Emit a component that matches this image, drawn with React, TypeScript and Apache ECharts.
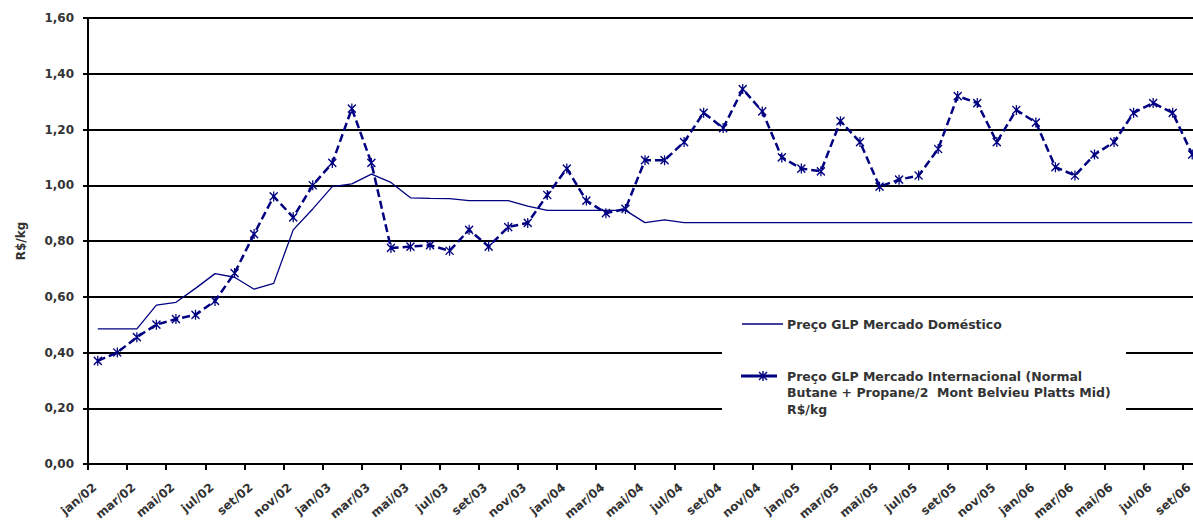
import React, { useEffect, useRef } from "react";
import * as echarts from "echarts";

// Monthly categories, jan/02 to set/06
const meses = [
  "jan/02", "fev/02", "mar/02", "abr/02", "mai/02", "jun/02", "jul/02", "ago/02", "set/02", "out/02", "nov/02", "dez/02",
  "jan/03", "fev/03", "mar/03", "abr/03", "mai/03", "jun/03", "jul/03", "ago/03", "set/03", "out/03", "nov/03", "dez/03",
  "jan/04", "fev/04", "mar/04", "abr/04", "mai/04", "jun/04", "jul/04", "ago/04", "set/04", "out/04", "nov/04", "dez/04",
  "jan/05", "fev/05", "mar/05", "abr/05", "mai/05", "jun/05", "jul/05", "ago/05", "set/05", "out/05", "nov/05", "dez/05",
  "jan/06", "fev/06", "mar/06", "abr/06", "mai/06", "jun/06", "jul/06", "ago/06", "set/06",
];

// Preço GLP Mercado Doméstico (R$/kg)
const precoDomestico = [
  0.485, 0.485, 0.485, 0.57, 0.58, 0.63, 0.683, 0.67, 0.627, 0.648, 0.84, 0.915,
  0.995, 1.005, 1.04, 1.01, 0.955, 0.953, 0.952, 0.945, 0.945, 0.945, 0.925, 0.91,
  0.91, 0.91, 0.91, 0.91, 0.866, 0.876, 0.866, 0.866, 0.866, 0.866, 0.866, 0.866,
  0.866, 0.866, 0.866, 0.866, 0.866, 0.866, 0.866, 0.866, 0.866, 0.866, 0.866, 0.866,
  0.866, 0.866, 0.866, 0.866, 0.866, 0.866, 0.866, 0.866, 0.866,
];

// Preço GLP Mercado Internacional (Normal Butane + Propane/2, Mont Belvieu) (R$/kg)
const precoInternacional = [
  0.37, 0.40, 0.455, 0.50, 0.52, 0.535, 0.585, 0.685, 0.825, 0.96, 0.885, 1.00,
  1.08, 1.275, 1.08, 0.775, 0.78, 0.785, 0.765, 0.84, 0.78, 0.85, 0.865, 0.965,
  1.06, 0.945, 0.90, 0.915, 1.09, 1.09, 1.155, 1.26, 1.205, 1.345, 1.265, 1.10,
  1.06, 1.05, 1.23, 1.155, 0.995, 1.02, 1.035, 1.13, 1.32, 1.295, 1.155, 1.27,
  1.225, 1.065, 1.035, 1.11, 1.155, 1.26, 1.295, 1.26, 1.11,
];

const Y_MIN = 0;
const Y_MAX = 1.6;
const Y_STEP = 0.2;

const NOME_DOMESTICO = "Preço GLP Mercado Doméstico";
const NOME_INTERNACIONAL =
  "Preço GLP Mercado Internacional (Normal\nButane + Propane/2  Mont Belvieu Platts Mid)\nR$/kg";

const NAVY = "#000080";
const TEXT = "#333333";
const FONT = "DejaVu Sans";
// asterisk-like marker: an x crossed by a vertical bar
const STAR = "path://M0 1L10 9M10 1L0 9M5 0L5 10";

export default function App() {
  const ref = useRef<HTMLDivElement>(null);

  useEffect(() => {
    const chart = echarts.init(ref.current!, null, { renderer: "svg" });
    const mx = 763;
    const my = 376;
    chart.setOption({
      animation: false,
      backgroundColor: "#ffffff",
      textStyle: { fontFamily: FONT },
      grid: {
        left: 88,
        top: 18,
        right: 0,
        bottom: 57,
        containLabel: false,
        outerBoundsMode: "none",
      },
      xAxis: {
        type: "category",
        data: meses,
        boundaryGap: true,
        axisLine: { lineStyle: { color: "#000", width: 2 } },
        axisTick: { show: true, interval: 1, length: 6, lineStyle: { color: "#000", width: 2 } },
        axisLabel: {
          interval: 1,
          rotate: 40,
          margin: 19,
          padding: [0, 4, 0, 0],
          color: TEXT,
          fontSize: 12,
          fontWeight: "bold",
          fontFamily: FONT,
        },
        splitLine: { show: false },
      },
      yAxis: {
        type: "value",
        min: Y_MIN,
        max: Y_MAX,
        interval: Y_STEP,
        name: "R$/kg",
        nameLocation: "middle",
        nameRotate: 90,
        nameGap: 61,
        nameTextStyle: { color: TEXT, fontSize: 12, fontWeight: "bold", fontFamily: FONT },
        axisLine: { show: true, lineStyle: { color: "#000", width: 2 } },
        axisTick: { show: true, length: 5, lineStyle: { color: "#000", width: 2 } },
        axisLabel: {
          margin: 14,
          color: TEXT,
          fontSize: 12,
          fontWeight: "bold",
          fontFamily: FONT,
          formatter: (v: number) => v.toFixed(2).replace(".", ","),
        },
        splitLine: { show: true, lineStyle: { color: "#000", width: 2 } },
      },
      series: [
        {
          name: NOME_DOMESTICO,
          type: "line",
          data: precoDomestico,
          symbol: "none",
          lineStyle: { color: NAVY, width: 1.3 },
          itemStyle: { color: NAVY },
          z: 2,
        },
        {
          name: NOME_INTERNACIONAL,
          type: "line",
          data: precoInternacional,
          symbol: STAR,
          symbolSize: [8, 10],
          itemStyle: { color: NAVY, borderColor: NAVY, borderWidth: 1.4 },
          lineStyle: { color: NAVY, width: 2.5, type: [8, 4] },
          z: 3,
        },
      ],
      graphic: [
        {
          type: "rect",
          shape: { x: 722, y: 305, width: 404, height: 118 },
          style: { fill: "#ffffff" },
          z: 10,
        },
        {
          type: "line",
          shape: { x1: 742, y1: 324, x2: 783, y2: 324 },
          style: { stroke: NAVY, lineWidth: 1.5 },
          z: 11,
        },
        {
          type: "text",
          x: 787,
          y: 324,
          style: {
            text: NOME_DOMESTICO,
            fontSize: 12.5,
            fontWeight: "bold",
            fontFamily: FONT,
            fill: TEXT,
            verticalAlign: "middle",
          },
          z: 11,
        },
        {
          type: "line",
          shape: { x1: 741, y1: my, x2: 777, y2: my },
          style: { stroke: NAVY, lineWidth: 3 },
          z: 11,
        },
        {
          type: "line",
          shape: { x1: mx, y1: my - 5, x2: mx, y2: my + 5 },
          style: { stroke: NAVY, lineWidth: 1.4 },
          z: 12,
        },
        {
          type: "line",
          shape: { x1: mx - 4, y1: my - 4, x2: mx + 4, y2: my + 4 },
          style: { stroke: NAVY, lineWidth: 1.4 },
          z: 12,
        },
        {
          type: "line",
          shape: { x1: mx + 4, y1: my - 4, x2: mx - 4, y2: my + 4 },
          style: { stroke: NAVY, lineWidth: 1.4 },
          z: 12,
        },
        {
          type: "text",
          x: 787,
          y: 368,
          style: {
            text: NOME_INTERNACIONAL,
            fontSize: 12.5,
            fontWeight: "bold",
            fontFamily: FONT,
            fill: TEXT,
            lineHeight: 16.5,
            verticalAlign: "top",
          },
          z: 11,
        },
      ],
    });
    return () => chart.dispose();
  }, []);

  // the plot runs slightly past the right edge of the visible frame
  return (
    <div
      style={{
        position: "fixed",
        left: 0,
        top: 0,
        width: 1193,
        height: 521,
        overflow: "hidden",
        background: "#fff",
      }}
    >
      <div ref={ref} style={{ width: 1202, height: 521 }} />
    </div>
  );
}
